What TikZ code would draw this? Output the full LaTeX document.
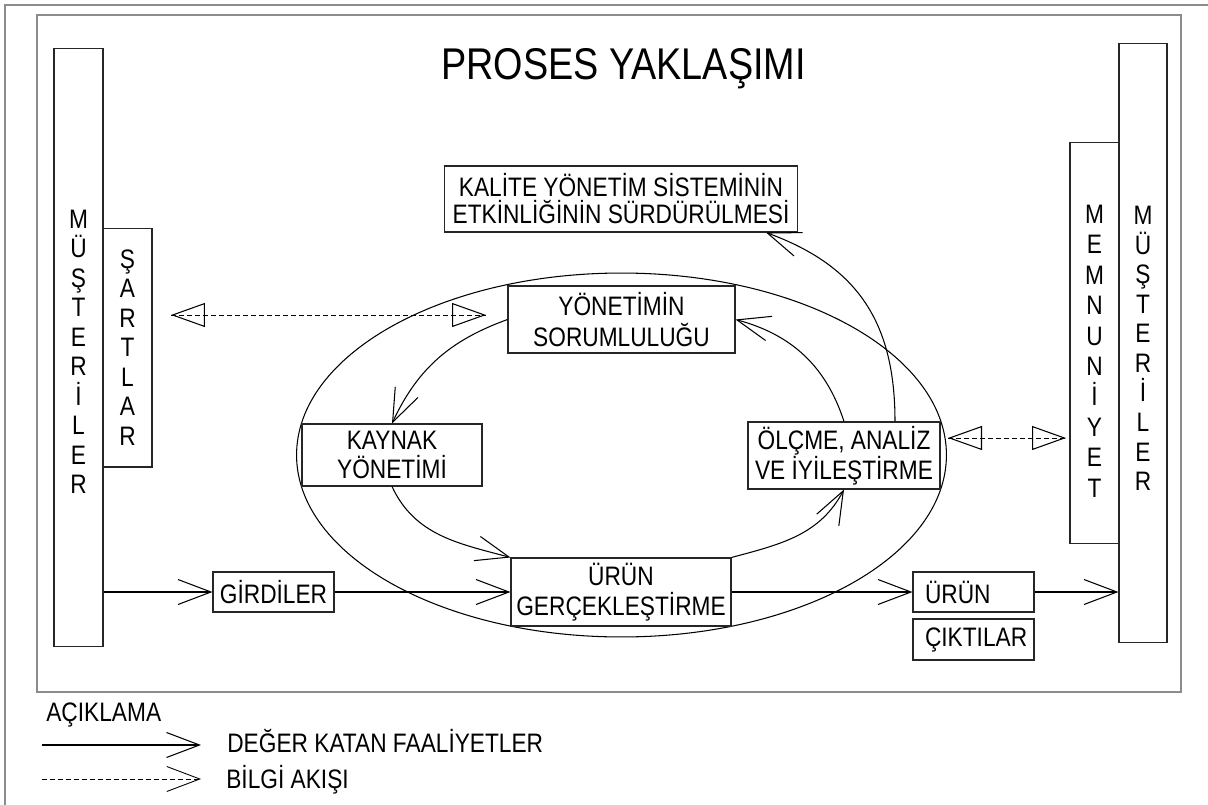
\documentclass[tikz,border=0pt]{standalone}
\usepackage{fontspec}
\setmainfont{Liberation Sans}[FakeStretch=0.85]
\usetikzlibrary{arrows.meta, calc, shapes.geometric}

\begin{document}
\begin{tikzpicture}[
      x=0.02cm, y=-0.02cm,
      font=\fontsize{15.2}{17}\selectfont,
      frame/.style={draw=black!45, line width=0.9pt},
      box/.style={rectangle, draw=black!85, line width=0.6pt, inner sep=0pt,
                  align=center},
      col/.style={box, minimum width=0.98cm,
                  font=\fontsize{15.2}{16.8}\selectfont},
      lbl/.style={inner sep=0pt, anchor=base west},
      arr/.style={-{Straight Barb[length=0.66cm, width=0.5cm]}, line width=0.6pt},
      info/.style={line width=0.5pt, dash pattern=on 0.1cm off 0.06cm},
      tri/.style={{Triangle[open, length=0.68cm, width=0.48cm]}-{Triangle[open, length=0.68cm, width=0.48cm]},
                  line width=0.6pt}
    ]
    \useasboundingbox (0,0) rectangle (1208,805);

    % Frames
    \draw[frame, line width=1.3pt] (5,805) -- (5,5) -- (1208,5);
    \draw[frame] (37,15) rectangle (1181,692);

    % Title
    \node[font=\fontsize{25.3}{30}\selectfont, anchor=base] (title) at (623.5,79) {PROSES YAKLAŞIMI};

    % Side columns
    \node[col, minimum height=11.98cm] (must1) at (78.5,347.5) {\rule{0pt}{1em}M\\Ü\\Ş\\T\\E\\R\\İ\\L\\E\\R};
    \node[col, minimum height=4.78cm] (sart) at (127.5,347.5) {Ş\\A\\R\\T\\L\\A\\R};
    \node[col, minimum height=8.04cm, font=\fontsize{15.2}{17.3}\selectfont] (memn) at (1094.5,343) {\rule{0pt}{1.3em}M\\E\\M\\N\\U\\N\\İ\\Y\\E\\T};
    \node[col, minimum width=0.96cm, minimum height=12cm] (must2) at (1143,343) {\rule{0pt}{1.1em}M\\Ü\\Ş\\T\\E\\R\\İ\\L\\E\\R};

    % Process loop
    \node[draw, ellipse, line width=0.6pt, inner sep=0pt, minimum width=13cm,
          minimum height=7.28cm] (loop) at (621.5,455) {};
    \node[box, minimum width=7.08cm, minimum height=1.32cm,
          font=\fontsize{15.2}{15.4}\selectfont] (kal) at (621,199) {KALİTE YÖNETİM SİSTEMİNİN\\ETKİNLİĞİNİN SÜRDÜRÜLMESİ};
    \node[box, minimum width=4.54cm, minimum height=1.34cm,
          font=\fontsize{15.2}{17.6}\selectfont] (yon) at (621.5,319.5) {YÖNETİMİN\\SORUMLULUĞU};
    \node[box, minimum width=3.6cm, minimum height=1.24cm] (kay) at (392,455) {KAYNAK\\YÖNETİMİ};
    \node[box, minimum width=3.84cm, minimum height=1.34cm] (olc) at (844,455.5) {ÖLÇME, ANALİZ\\VE İYİLEŞTİRME};
    \node[box, minimum width=4.4cm, minimum height=1.36cm] (urg) at (621,592) {ÜRÜN\\GERÇEKLEŞTİRME};

    % Inputs and outputs
    \node[box, minimum width=2.42cm, minimum height=0.8cm] (gir) at (273.5,592) {GİRDİLER};
    \node[box, align=left, text width=1.94cm, inner xsep=0.24cm,
          minimum height=0.8cm] (urn) at (973.5,592) {ÜRÜN};
    \node[box, align=left, text width=1.94cm, inner xsep=0.24cm,
          minimum height=0.82cm] (cik) at (973.5,639.5) {ÇIKTILAR};

    % Value adding flow
    \draw[arr] (must1.east |- gir.west) -- (gir);
    \draw[arr] (gir) -- (urg);
    \draw[arr] (urg) -- (urn);
    \draw[arr] (urn) -- (must2.west |- urn.east);
    \draw[arr] (yon.west) to[out=200, in=65] (kay.north);
    \draw[arr] (kay.south) to[out=-65, in=165] (urg.north west);
    \draw[arr] (urg.north east) to[out=15, in=242] (olc.south);
    \draw[arr] (olc.north) to[out=108, in=-15] (yon.east);
    \draw[arr] ($(olc.north)+(51,0)$) to[out=90, in=-20, looseness=1.1] ($(kal.south)+(145,0)$);

    % Information flow
    \coordinate (s1) at (171,315);
    \coordinate (s2) at (486,315);
    \coordinate (m1) at (948,438);
    \coordinate (m2) at (1066,438);
    \draw[info] (s1) -- (s2);
    \path[tips, tri] (s1) -- (s2);
    \draw[info] (m1) -- (m2);
    \path[tips, tri] (m1) -- (m2);

    % Legend
    \node[lbl] (acik) at (46,721) {AÇIKLAMA};
    \node[lbl] (deger) at (227,752) {DEĞER KATAN FAALİYETLER};
    \node[lbl] (bilgi) at (226,788) {BİLGİ AKIŞI};
    \coordinate (v1) at (42,745);
    \coordinate (v2) at (201,745);
    \coordinate (b1) at (42,779);
    \coordinate (b2) at (201,779);
    \draw[arr] (v1) -- (v2);
    \draw[arr, info] (b1) -- (b2);
  \end{tikzpicture}
\end{document}
